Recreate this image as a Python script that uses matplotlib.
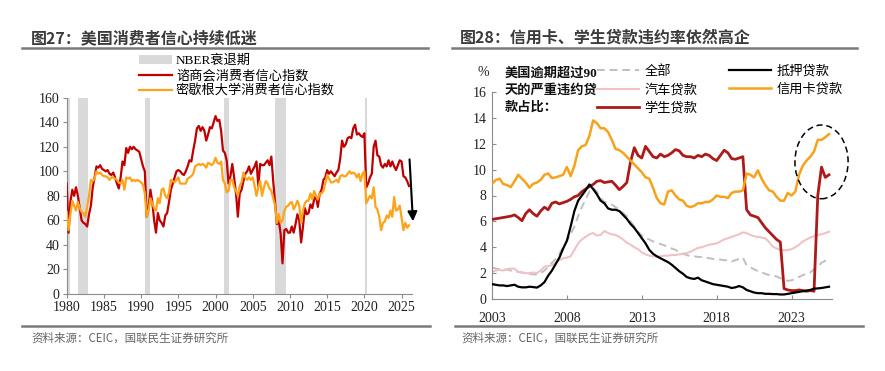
import numpy as np
import matplotlib
matplotlib.use("Agg")
import matplotlib.pyplot as plt
from matplotlib.lines import Line2D
from matplotlib.patches import Patch, Ellipse

plt.rcParams['font.family'] = ['Liberation Serif', 'Noto Sans CJK SC', 'DejaVu Sans']

# ---------------- data: left panel (quarterly, 1980Q1 .. 2026Q1) ----------------
conf_board = [
    90, 50, 75, 85,      # 1980
    80, 87, 80, 70,      # 1981
    60, 58, 57, 55,      # 1982
    65, 72, 87, 95,      # 1983
    104, 103, 105, 102,  # 1984
    101, 100, 101, 98,   # 1985
    97, 99, 95, 90,      # 1986
    86, 95, 108, 105,    # 1987
    119, 115, 120, 118,  # 1988
    120, 118, 117, 116,  # 1989
    110, 104, 100, 63,   # 1990
    70, 85, 75, 60,      # 1991
    50, 66, 60, 58,      # 1992
    55, 64, 66, 75,      # 1993
    85, 90, 95, 100,     # 1994
    101, 100, 98, 97,    # 1995
    100, 104, 109, 108,  # 1996
    117, 125, 135, 137,  # 1997
    133, 136, 133, 125,  # 1998
    130, 136, 135, 140,  # 1999
    145, 141, 142, 133,  # 2000
    117, 115, 109, 90,   # 2001
    96, 106, 95, 82,     # 2002
    63, 82, 85, 92,      # 2003
    98, 100, 104, 98,    # 2004
    101, 104, 108, 88,   # 2005
    106, 105, 105, 107,  # 2006
    109, 105, 112, 92,   # 2007
    75, 57, 60, 49,      # 2008
    25, 52, 53, 50,      # 2009
    50, 55, 50, 57,      # 2010
    65, 60, 42, 55,      # 2011
    70, 65, 66, 73,      # 2012
    70, 77, 80, 71,      # 2013
    82, 85, 93, 95,      # 2014
    101, 98, 100, 98,    # 2015
    96, 99, 101, 110,    # 2016
    125, 120, 122, 127,  # 2017
    128, 127, 135, 138,  # 2018
    130, 131, 129, 128,  # 2019
    131, 87, 90, 95,     # 2020
    98, 120, 125, 113,   # 2021
    112, 105, 103, 106,  # 2022
    104, 109, 104, 108,  # 2023
    104, 101, 105, 109,  # 2024
    108, 96, 95, 92,     # 2025
    88,                  # 2026
]
michigan = [
    67, 52, 65, 76,      # 1980
    72, 68, 75, 70,      # 1981
    67, 66, 63, 71,      # 1982
    80, 93, 92, 94,      # 1983
    100, 98, 99, 97,     # 1984
    96, 96, 95, 93,      # 1985
    95, 95, 94, 93,      # 1986
    91, 90, 93, 85,      # 1987
    95, 94, 95, 92,      # 1988
    93, 92, 93, 92,      # 1989
    91, 89, 82, 63,      # 1990
    68, 78, 74, 70,      # 1991
    68, 78, 74, 85,      # 1992
    86, 80, 78, 83,      # 1993
    93, 92, 91, 93,      # 1994
    95, 90, 90, 90,      # 1995
    90, 94, 95, 96,      # 1996
    98, 104, 105, 106,   # 1997
    105, 106, 105, 103,  # 1998
    107, 106, 105, 107,  # 1999
    111, 107, 106, 108,  # 2000
    93, 90, 83, 84,      # 2001
    93, 93, 87, 84,      # 2002
    80, 88, 91, 99,      # 2003
    95, 93, 95, 93,      # 2004
    95, 88, 80, 87,      # 2005
    92, 80, 87, 92,      # 2006
    90, 86, 84, 78,      # 2007
    72, 58, 65, 58,      # 2008
    60, 68, 71, 72,      # 2009
    74, 75, 69, 72,      # 2010
    76, 72, 58, 68,      # 2011
    74, 76, 76, 82,      # 2012
    77, 84, 80, 77,      # 2013
    82, 82, 84, 90,      # 2014
    97, 94, 91, 91,      # 2015
    92, 93, 91, 96,      # 2016
    97, 96, 96, 98,      # 2017
    100, 98, 99, 98,     # 2018
    95, 98, 92, 98,      # 2019
    100, 74, 77, 80,     # 2020
    78, 87, 71, 69,      # 2021
    63, 52, 58, 59,      # 2022
    64, 62, 68, 63,      # 2023
    79, 68, 69, 72,      # 2024
    62, 52, 58, 54,      # 2025
    56,                  # 2026
]
# NBER recessions
rec_start = [1980.0, 1981.55, 1990.55, 2001.2, 2007.95, 2020.1]
rec_end = [1980.5, 1982.85, 1991.2, 2001.85, 2009.45, 2020.3]
left_ticks = [1980, 1985, 1990, 1995, 2000, 2005, 2010, 2015, 2020, 2025]

# ---------------- data: right panel (quarterly, 2003Q1 .. 2025Q3, %) ----------------
dq_total = [
    2.45, 2.35, 2.3, 2.25, 2.3, 2.2, 2.15, 2.1, 2.05, 2.0, 1.95, 1.9,
    1.9, 2.0, 2.2, 2.5, 2.8, 3.1, 3.5, 4.0, 4.5, 5.0, 5.6, 6.4,
    7.1, 7.7, 8.3, 8.6, 8.3, 7.8, 7.5, 7.4, 7.3, 7.1, 6.9, 6.65,
    6.4, 6.0, 5.6, 5.2, 4.9, 4.7, 4.6, 4.45, 4.35, 4.25, 4.15, 4.0,
    3.9, 3.8, 3.6, 3.5, 3.4, 3.3, 3.3, 3.25, 3.25, 3.2, 3.15, 3.1,
    3.05, 3.05, 3.0, 3.0, 2.9, 3.0, 3.1, 3.2, 2.6, 2.45, 2.3, 2.15,
    2.05, 1.95, 1.85, 1.8, 1.75, 1.6, 1.5, 1.4, 1.45, 1.55, 1.7, 1.85,
    1.95, 2.05, 2.3, 2.5, 2.8, 2.95, 3.1,
]
dq_auto = [
    2.1, 2.2, 2.25, 2.2, 2.3, 2.35, 2.35, 2.1, 2.05, 2.0, 2.0, 2.05,
    2.0, 2.2, 2.5, 2.55, 2.6, 2.8, 3.0, 3.15, 3.2, 3.3, 3.8, 4.3,
    4.6, 4.8, 5.0, 5.1, 4.9, 4.95, 5.25, 5.1, 5.0, 4.95, 4.8, 4.6,
    4.35, 4.2, 4.0, 3.85, 3.6, 3.45, 3.35, 3.3, 3.3, 3.3, 3.35, 3.35,
    3.4, 3.4, 3.45, 3.5, 3.55, 3.65, 3.8, 3.95, 4.0, 4.1, 4.2, 4.25,
    4.3, 4.45, 4.6, 4.7, 4.8, 4.9, 5.0, 5.15, 5.1, 4.95, 4.85, 4.8,
    4.75, 4.7, 4.4, 4.05, 3.9, 3.8, 3.75, 3.8, 3.85, 4.0, 4.2, 4.45,
    4.6, 4.75, 4.85, 4.95, 5.0, 5.1, 5.2,
]
dq_student = [
    6.15, 6.2, 6.25, 6.3, 6.35, 6.4, 6.5, 6.3, 6.05, 6.6, 6.9, 6.6,
    6.4, 6.8, 7.1, 6.9, 7.4, 7.5, 7.35, 7.45, 7.55, 7.7, 7.9, 8.0,
    8.3, 8.5, 8.7, 8.85, 9.1, 9.15, 9.0, 9.05, 9.1, 8.8, 8.45, 8.7,
    9.0, 10.6, 11.7, 11.1, 10.9, 11.8, 11.4, 11.0, 10.9, 11.2, 11.0, 11.1,
    11.3, 11.55, 11.45, 11.1, 11.0, 11.0, 10.9, 11.1, 11.0, 11.2, 11.1, 10.85,
    10.7, 11.1, 11.5, 11.3, 10.85, 10.8, 10.9, 11.0, 6.9, 6.5, 6.4, 6.3,
    5.9, 5.5, 5.2, 4.9, 4.6, 4.4, 0.8, 0.7, 0.65, 0.65, 0.7, 0.65,
    0.6, 0.65, 0.6, 8.0, 10.2, 9.4, 9.6,
]
dq_mortgage = [
    1.15, 1.1, 1.05, 1.05, 1.0, 1.05, 1.1, 0.95, 0.9, 0.9, 0.95, 0.92,
    0.88, 1.05, 1.3, 1.8, 2.2, 2.7, 3.2, 3.9, 4.5, 5.6, 6.8, 7.6,
    8.0, 8.4, 8.85, 8.5, 8.1, 7.6, 7.4, 7.0, 6.9, 6.9, 6.8, 6.5,
    6.2, 5.8, 5.5, 5.1, 4.7, 4.3, 3.8, 3.5, 3.3, 3.15, 3.0, 2.85,
    2.65, 2.4, 2.15, 1.95, 1.7, 1.6, 1.55, 1.65, 1.45, 1.35, 1.25, 1.15,
    1.1, 1.05, 1.0, 0.95, 0.85, 0.9, 1.0, 0.9, 0.7, 0.6, 0.5, 0.45,
    0.45, 0.4, 0.4, 0.38, 0.38, 0.35, 0.35, 0.4, 0.45, 0.5, 0.55, 0.6,
    0.65, 0.7, 0.8, 0.82, 0.85, 0.9, 0.95,
]
dq_card = [
    8.9, 9.2, 9.3, 8.9, 8.8, 8.65, 9.1, 9.6, 9.3, 9.0, 8.6, 8.9,
    9.0, 9.2, 9.6, 9.7, 9.35, 9.4, 9.5, 9.6, 10.2, 9.5, 10.3, 11.5,
    11.8, 11.9, 12.6, 13.8, 13.6, 13.2, 13.2, 12.9, 12.3, 11.6, 11.5, 11.3,
    11.0, 10.7, 10.4, 10.1, 9.8, 9.4, 9.3, 8.6, 7.8, 7.4, 7.3, 8.3,
    8.4, 8.0, 7.7, 7.6, 7.2, 7.1, 7.2, 7.4, 7.4, 7.5, 7.5, 7.7,
    8.0, 7.9, 7.9, 7.8, 8.2, 8.3, 8.3, 8.4, 9.7, 9.6, 9.4, 9.95,
    9.3, 8.8, 8.4, 8.3, 7.9, 7.6, 7.6, 8.2, 8.0, 8.3, 9.6, 10.3,
    10.7, 11.0, 11.4, 12.3, 12.3, 12.5, 12.75,
]
right_ticks = [2003, 2008, 2013, 2018, 2023]
note_lines = ['美国逾期超过90', '天的严重违约贷', '款占比：']

# ==============================================================================
W, H = 885, 371
fig = plt.figure(figsize=(W / 100, H / 100), dpi=100)

def fx(px):
    return px / W

def fy(py):
    return 1 - py / H

grey = '#8c8c8c'
cjk = ['Noto Sans CJK SC', 'DejaVu Sans']

# titles and frame lines
fig.text(fx(31), fy(38), '图27：美国消费者信心持续低迷', family=cjk, fontsize=11.5,
         fontweight='bold', color='#3b3b3b', va='center', ha='left')
fig.text(fx(460), fy(38), '图28：信用卡、学生贷款违约率依然高企', family=cjk, fontsize=11.5,
         fontweight='bold', color='#3b3b3b', va='center', ha='left')
for x0, x1 in [(22, 428), (452, 857)]:
    fig.add_artist(Line2D([fx(x0), fx(x1)], [fy(48), fy(48)], color='#7a7a7a', lw=1.8))
for x0, x1 in [(22, 430), (455, 863)]:
    fig.add_artist(Line2D([fx(x0), fx(x1)], [fy(326), fy(326)], color='#7a7a7a', lw=1.8))
fig.text(fx(31), fy(338), '资料来源：CEIC，国联民生证券研究所', family=cjk, fontsize=8.3,
         color='#666666', va='center', ha='left')
fig.text(fx(461), fy(338), '资料来源：CEIC，国联民生证券研究所', family=cjk, fontsize=8.3,
         color='#666666', va='center', ha='left')

# ---------------- left panel ----------------
ax1 = fig.add_axes([fx(66.7), fy(294), fx(412 - 66.7), (294 - 97.7) / H])
xl = 1980 + np.arange(len(conf_board)) / 4
for s, e in zip(rec_start, rec_end):
    ax1.axvspan(s, e, color='#d9d9d9', lw=0, zorder=1)
ax1.plot(xl, conf_board, color='#c00000', lw=1.6, zorder=3)
ax1.plot(xl, michigan, color='#ffa31a', lw=1.6, zorder=4)
ax1.annotate('', xy=(2026.55, 57), xytext=(2026.05, 112), annotation_clip=False,
             arrowprops=dict(arrowstyle='-|>', color='black', lw=1.5, mutation_scale=14))
ax1.set_xlim(1980, 2026.4)
ax1.set_ylim(0, 160)
ax1.set_xticks(left_ticks)
ax1.set_yticks(range(0, 161, 20))
for sp in ['top', 'right']:
    ax1.spines[sp].set_visible(False)
for sp in ['left', 'bottom']:
    ax1.spines[sp].set_color(grey)
ax1.tick_params(direction='out', length=3, color=grey, labelsize=10, pad=2, labelcolor='#222222')

leg1 = ax1.legend(handles=[Patch(color='#d9d9d9', lw=0),
                           Line2D([], [], color='#c00000', lw=1.6),
                           Line2D([], [], color='#ffa31a', lw=1.6)],
                  labels=['NBER衰退期', '谘商会消费者信心指数', '密歇根大学消费者信心指数'],
                  loc='upper left', bbox_to_anchor=(fx(139), fy(55)),
                  bbox_transform=fig.transFigure, frameon=False, fontsize=9.5,
                  handlelength=2.5, handleheight=0.6, handletextpad=0.3,
                  labelspacing=0.15, borderpad=0, borderaxespad=0)

# ---------------- right panel ----------------
ax2 = fig.add_axes([fx(492), fy(299), fx(832 - 492), (299 - 92) / H])
xr = 2003 + np.arange(len(dq_card)) / 4
l_total, = ax2.plot(xr, dq_total, color='#bfbfbf', lw=1.4, ls=(0, (4, 2.5)), zorder=2)
l_auto, = ax2.plot(xr, dq_auto, color='#efc3c6', lw=1.5, zorder=2)
l_student, = ax2.plot(xr, dq_student, color='#ad1a1a', lw=2.0, zorder=3)
l_mort, = ax2.plot(xr, dq_mortgage, color='black', lw=1.6, zorder=4)
l_card, = ax2.plot(xr, dq_card, color='#f7a21b', lw=1.8, zorder=3)
ax2.add_patch(Ellipse((2025.0, 10.6), 3.55, 5.7, fill=False, ls=(0, (4, 2.5)),
                      lw=1.1, color='black', clip_on=False, zorder=5))
ax2.set_xlim(2003, 2025.7)
ax2.set_ylim(0, 16)
ax2.set_xticks(right_ticks)
ax2.set_yticks(range(0, 17, 2))
for sp in ['top', 'right']:
    ax2.spines[sp].set_visible(False)
for sp in ['left', 'bottom']:
    ax2.spines[sp].set_color(grey)
ax2.tick_params(axis='y', direction='in', length=3, color=grey, labelsize=10, pad=4, labelcolor='#222222')
ax2.tick_params(axis='x', direction='in', length=3, color=grey, labelsize=10, pad=9, labelcolor='#222222')

fig.text(fx(483), fy(73), '%', fontsize=10, ha='center', va='center', color='#222222')
for i, line in enumerate(note_lines):
    fig.text(fx(505), fy(73 + 17.5 * i), line, fontsize=9.5, fontweight='bold',
             ha='left', va='center', color='#111111')
ax2.legend(handles=[l_total, l_auto, l_student, l_mort, l_card],
           labels=['全部', '汽车贷款', '学生贷款', '抵押贷款', '信用卡贷款'],
           ncol=2, loc='upper left', bbox_to_anchor=(fx(597), fy(65)),
           bbox_transform=fig.transFigure, frameon=False, fontsize=9.5,
           handlelength=3.2, handletextpad=0.4, labelspacing=0.42,
           columnspacing=2.4, borderpad=0, borderaxespad=0)

fig.savefig('out.png', dpi=100)
